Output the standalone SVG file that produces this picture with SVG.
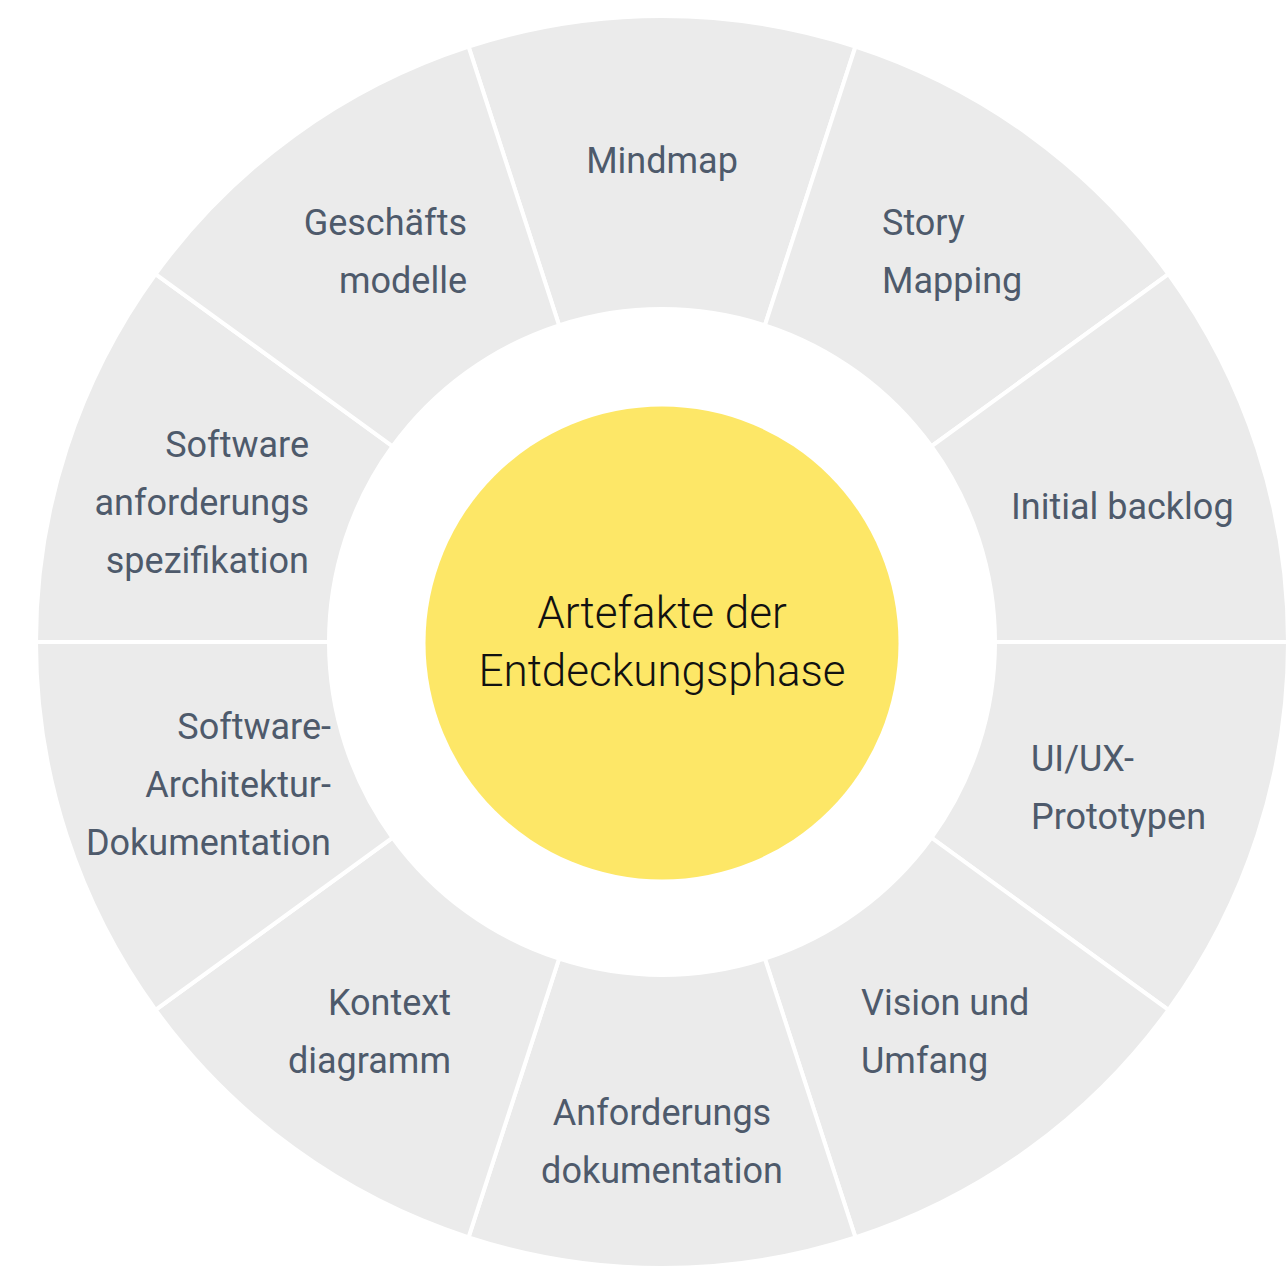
<svg xmlns="http://www.w3.org/2000/svg" width="1286" height="1286" viewBox="0 0 1286 1286">
<style>
.seg{fill:#ebebeb;stroke:#ffffff;stroke-width:4;stroke-linejoin:miter}
.lbl{font-family:Roboto,"Liberation Sans",sans-serif;font-size:36px;fill:#4e5a6b}
.ctr{font-family:Roboto,"Liberation Sans",sans-serif;font-weight:300;font-size:44px;fill:#111111;text-anchor:middle}
</style>
<rect width="1286" height="1286" fill="#ffffff"/>
<g id="connectors"></g>
<g id="seg-mindmap">
<path class="seg" d="M468.55,46.64 A626,626 0 0 1 855.45,46.64 L764.90,325.30 A333,333 0 0 0 559.10,325.30 Z"/>
<text class="lbl" x="662" y="173" text-anchor="middle">Mindmap</text>
</g>
<g id="seg-story">
<path class="seg" d="M855.45,46.64 A626,626 0 0 1 1168.45,274.04 L931.40,446.27 A333,333 0 0 0 764.90,325.30 Z"/>
<text class="lbl" x="882" y="235">Story</text>
<text class="lbl" x="882" y="293">Mapping</text>
</g>
<g id="seg-backlog">
<path class="seg" d="M1168.45,274.04 A626,626 0 0 1 1288,642 L995,642 A333,333 0 0 0 931.40,446.27 Z"/>
<text class="lbl" x="1011" y="519">Initial backlog</text>
</g>
<g id="seg-uiux">
<path class="seg" d="M1288,642 A626,626 0 0 1 1168.45,1009.96 L931.40,837.73 A333,333 0 0 0 995,642 Z"/>
<text class="lbl" x="1031" y="771">UI/UX-</text>
<text class="lbl" x="1031" y="829">Prototypen</text>
</g>
<g id="seg-vision">
<path class="seg" d="M1168.45,1009.96 A626,626 0 0 1 855.45,1237.36 L764.90,958.70 A333,333 0 0 0 931.40,837.73 Z"/>
<text class="lbl" x="861" y="1015">Vision und</text>
<text class="lbl" x="861" y="1073">Umfang</text>
</g>
<g id="seg-anforderungsdoku">
<path class="seg" d="M855.45,1237.36 A626,626 0 0 1 468.55,1237.36 L559.10,958.70 A333,333 0 0 0 764.90,958.70 Z"/>
<text class="lbl" x="662" y="1125" text-anchor="middle">Anforderungs</text>
<text class="lbl" x="662" y="1183" text-anchor="middle">dokumentation</text>
</g>
<g id="seg-kontext">
<path class="seg" d="M468.55,1237.36 A626,626 0 0 1 155.55,1009.96 L392.60,837.73 A333,333 0 0 0 559.10,958.70 Z"/>
<text class="lbl" x="451" y="1015" text-anchor="end">Kontext</text>
<text class="lbl" x="451" y="1073" text-anchor="end">diagramm</text>
</g>
<g id="seg-architektur">
<path class="seg" d="M155.55,1009.96 A626,626 0 0 1 36,642 L329,642 A333,333 0 0 0 392.60,837.73 Z"/>
<text class="lbl" x="331" y="739" text-anchor="end">Software-</text>
<text class="lbl" x="331" y="797" text-anchor="end">Architektur-</text>
<text class="lbl" x="331" y="855" text-anchor="end">Dokumentation</text>
</g>
<g id="seg-swanforderung">
<path class="seg" d="M36,642 A626,626 0 0 1 155.55,274.04 L392.60,446.27 A333,333 0 0 0 329,642 Z"/>
<text class="lbl" x="309" y="457" text-anchor="end">Software</text>
<text class="lbl" x="309" y="515" text-anchor="end">anforderungs</text>
<text class="lbl" x="309" y="573" text-anchor="end">spezifikation</text>
</g>
<g id="seg-geschaeft">
<path class="seg" d="M155.55,274.04 A626,626 0 0 1 468.55,46.64 L559.10,325.30 A333,333 0 0 0 392.60,446.27 Z"/>
<text class="lbl" x="467" y="235" text-anchor="end">Geschäfts</text>
<text class="lbl" x="467" y="293" text-anchor="end">modelle</text>
</g>
<g id="center">
<circle cx="662" cy="643" r="236.5" fill="#fde767"/>
<text class="ctr" x="662" y="628">Artefakte der</text>
<text class="ctr" x="662" y="686">Entdeckungsphase</text>
</g>
</svg>
